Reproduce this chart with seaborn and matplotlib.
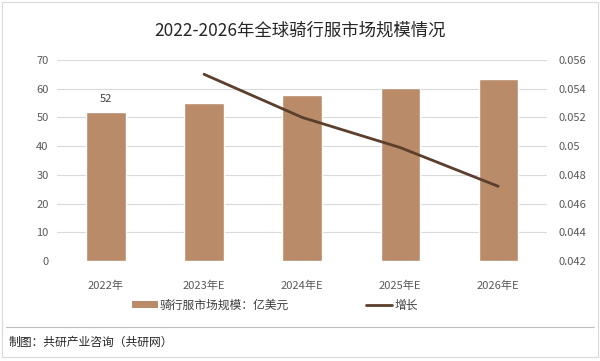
import numpy as np
import pandas as pd
import matplotlib
matplotlib.use("Agg")
import matplotlib.pyplot as plt
import seaborn as sns
from matplotlib.patches import Patch
from matplotlib.lines import Line2D

# data
years = ["2022年", "2023年E", "2024年E", "2025年E", "2026年E"]
market_size = [52, 55.0, 57.8, 60.4, 63.4]
growth_years = ["2023年E", "2024年E", "2025年E", "2026年E"]
growth = [0.0550, 0.0520, 0.0499, 0.0472]

bar_color = "#B98B69"
line_color = "#5B3F2C"

sns.set_theme(style="white")
plt.rcParams['font.family'] = ['Noto Sans CJK SC', 'DejaVu Sans']

fig = plt.figure(figsize=(6, 3.61), dpi=100)
ax = fig.add_axes([0.095, 0.277, 0.817, 0.557])

df = pd.DataFrame({"year": years, "size": market_size})
sns.barplot(data=df, x="year", y="size", color=bar_color, width=0.4,
            saturation=1, ax=ax, zorder=2)
ax.set_ylim(0, 70)
ax.set_yticks(range(0, 71, 10))
ax.set_xlim(-0.5, 4.5)
ax.grid(axis="y", color="#D9D9D9", linewidth=0.8, zorder=0)
ax.set_axisbelow(True)
for s in ax.spines.values():
    s.set_visible(False)
ax.set_xlabel("")
ax.set_ylabel("")
ax.tick_params(axis="both", length=0, labelsize=8, colors="#595959", pad=6)
ax.tick_params(axis="x", pad=14)

# data label only on the first bar
ax.text(0, market_size[0] + 2.5, "52", ha="center", va="bottom", fontsize=8, color="#404040")

ax2 = ax.twinx()
gx = [years.index(y) for y in growth_years]
sns.lineplot(x=gx, y=growth, color=line_color, linewidth=2, ax=ax2, zorder=3)
ax2.set_ylim(0.042, 0.056)
ax2.set_yticks(np.arange(0.042, 0.0561, 0.002))
ax2.set_yticklabels(["0.042", "0.044", "0.046", "0.048", "0.05", "0.052", "0.054", "0.056"])
ax2.set_xlim(-0.5, 4.5)
for s in ax2.spines.values():
    s.set_visible(False)
ax2.tick_params(axis="y", length=0, labelsize=8, colors="#595959", pad=8)
ax2.set_ylabel("")

fig.text(0.5, 0.915, "2022-2026年全球骑行服市场规模情况", ha="center", va="center",
         fontsize=12.5, color="#262626")

handles = [Patch(facecolor=bar_color, edgecolor="none"),
           Line2D([0], [0], color=line_color, linewidth=2)]
fig.legend(handles, ["骑行服市场规模：亿美元", "增长"], loc="center",
           bbox_to_anchor=(0.458, 0.155), ncol=2, frameon=False, fontsize=8.5,
           handlelength=2.2, handleheight=0.5, columnspacing=6.5, handletextpad=0.2,
           labelcolor="#404040")

fig.add_artist(Line2D([0.01, 0.99], [0.095, 0.095], color="#BFBFBF", linewidth=0.8))
fig.text(0.015, 0.052, "制图：共研产业咨询（共研网）", ha="left", va="center",
         fontsize=8.5, color="#262626")
fig.add_artist(plt.Rectangle((0.003, 0.01), 0.994, 0.985, fill=False,
                             edgecolor="#D9D9D9", linewidth=0.8))

fig.savefig("out.png", dpi=100)
